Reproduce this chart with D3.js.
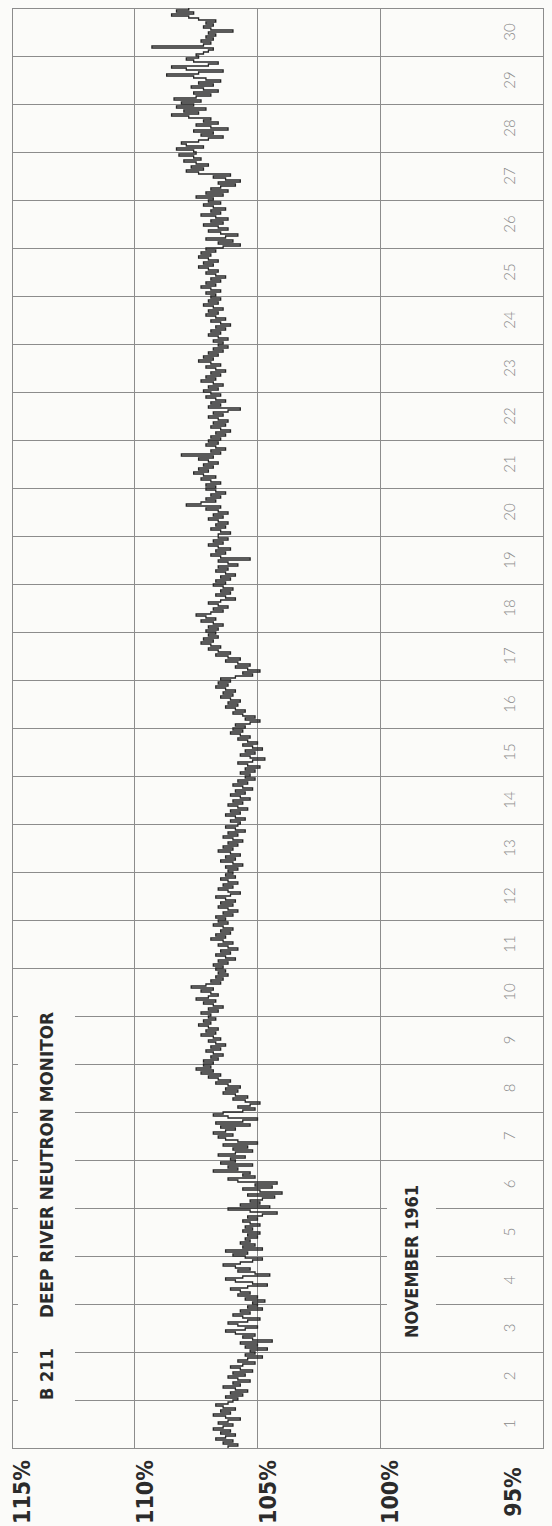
<!DOCTYPE html>
<html>
<head>
<meta charset="utf-8">
<script src="https://cdn.jsdelivr.net/npm/d3@7"></script>
<style>
  body { margin: 0; background: #fbfbf9; }
  svg { display: block; }
</style>
</head>
<body>
<svg id="chart" width="552" height="1526"></svg>
<script>
// day numbers along the (vertical) time axis, percent ticks along the value axis
var days = d3.range(1, 31);
var pctTicks = [115, 110, 105, 100, 95];
var title = "B 211";
var subtitle = "DEEP RIVER NEUTRON MONITOR";
var monthLabel = "NOVEMBER 1961";

// hourly counting rate in percent, one row per day, hour 0 first
var hourlyPct = [
  106.2,105.8,106.4,106.0,106.7,106.3,105.9,106.5,106.1,106.8,106.4,106.0,106.6,106.2,105.7,106.3,106.8,106.1,106.5,105.9,106.4,106.7,106.2,106.0,
  105.8,106.3,105.6,106.1,105.4,105.9,106.4,105.7,106.0,105.3,105.8,106.2,105.5,106.0,105.2,105.7,106.1,105.6,105.1,105.8,105.4,104.8,105.5,105.1,
  105.3,104.6,105.5,105.0,105.7,104.4,105.2,105.6,105.1,105.9,106.3,105.5,105.0,105.8,106.2,105.4,104.9,105.6,106.0,105.3,105.7,104.8,105.4,105.0,
  105.2,104.7,105.5,105.0,105.8,105.3,105.7,106.1,105.4,104.6,105.2,105.9,106.3,105.6,104.5,105.1,105.8,105.3,105.9,106.4,105.7,105.2,104.8,105.5,
  106.0,105.4,106.3,104.8,105.6,105.1,105.7,105.3,105.5,105.0,105.4,104.9,105.6,105.2,105.5,104.9,105.3,105.6,105.0,105.4,104.8,104.2,105.3,106.2,
  104.5,105.7,104.9,105.3,104.8,104.3,105.4,104.0,104.9,105.6,104.4,105.1,104.2,105.8,106.2,105.1,105.6,105.3,106.8,105.8,106.2,105.2,106.5,105.9,
  106.1,105.5,106.6,105.9,105.2,106.0,105.4,106.4,105.0,105.8,106.3,106.6,106.0,106.8,106.3,105.9,106.5,105.3,106.7,105.6,105.0,106.2,106.8,106.4,
  105.6,105.1,105.8,105.3,104.9,105.5,106.0,105.4,105.9,106.4,105.8,106.3,105.7,106.2,106.7,106.1,106.6,107.0,106.5,107.3,106.8,107.5,106.9,107.2,
  106.8,107.2,106.6,106.9,106.4,106.8,107.1,106.5,106.9,106.3,106.7,107.0,106.5,106.8,107.3,106.7,107.1,106.6,107.0,107.4,106.9,107.2,106.7,107.0,
  106.9,107.3,106.6,107.0,106.4,106.8,107.2,106.7,107.5,107.0,106.6,106.9,107.3,106.8,107.7,107.1,106.5,106.9,106.4,106.7,106.2,106.6,106.3,106.7,
  106.4,106.8,106.2,106.6,105.9,106.3,106.7,106.1,106.5,105.8,106.2,106.6,106.0,106.4,106.9,106.3,106.7,106.1,106.5,106.0,106.4,106.8,106.2,106.6,
  106.3,106.7,106.0,106.4,105.8,106.2,106.6,106.0,106.5,105.9,106.3,106.7,106.1,105.7,106.2,106.6,106.0,106.4,105.8,106.2,106.5,105.9,106.3,106.0,
  106.2,105.8,106.3,105.6,106.0,106.5,105.9,106.3,105.7,106.1,106.6,106.0,106.4,105.8,106.2,105.6,106.0,106.4,105.8,106.2,105.5,105.9,106.3,105.8,
  105.7,106.1,105.5,105.9,106.3,105.7,106.1,105.4,105.8,106.2,105.6,106.0,105.3,105.7,106.1,105.5,105.9,105.2,105.6,106.0,105.4,105.8,105.1,105.5,
  105.3,105.7,105.1,105.5,104.9,105.4,105.8,105.2,104.7,105.3,105.7,105.1,105.5,104.8,105.2,105.6,105.0,105.4,105.8,105.3,105.7,106.1,105.6,106.0,
  105.5,105.9,105.3,104.9,105.5,105.1,105.6,106.0,105.5,105.9,106.3,105.8,106.2,105.7,106.1,106.5,106.0,106.4,105.9,106.3,106.7,106.2,106.6,106.1,
  106.5,105.9,105.2,105.6,104.9,105.4,105.9,105.3,105.8,106.3,105.7,106.2,106.7,106.1,106.6,107.0,106.5,106.9,107.3,106.8,107.2,106.6,107.0,106.7,
  107.1,106.6,107.0,106.4,106.8,107.3,106.7,107.1,107.5,106.9,106.4,106.8,106.2,106.6,107.0,106.5,105.9,106.3,106.7,106.1,106.5,106.0,106.4,106.8,
  106.3,106.7,106.1,106.5,105.9,106.3,106.7,106.2,106.6,105.8,106.2,106.6,105.3,106.5,106.9,106.3,106.7,106.1,106.6,107.0,106.4,106.8,106.2,106.6,
  106.6,106.1,106.5,106.9,106.3,106.7,106.2,106.6,107.0,106.4,106.8,106.2,106.6,107.1,106.5,107.9,107.3,106.7,107.1,106.5,106.9,106.3,106.7,107.1,
  106.7,107.1,106.5,106.9,107.3,106.7,107.2,107.6,107.0,107.4,106.8,107.2,106.6,107.0,107.4,106.8,108.1,106.5,106.9,106.3,106.7,107.1,106.6,107.0,
  106.5,106.9,106.3,106.7,106.1,106.5,106.9,106.3,106.8,106.2,106.6,107.0,106.4,106.8,106.2,105.7,107.0,106.5,106.9,106.3,106.7,107.1,106.5,106.9,
  107.2,106.6,107.0,106.4,106.8,107.3,106.7,107.1,106.5,106.9,106.3,106.7,107.1,106.5,106.9,107.4,106.8,107.2,106.6,107.0,106.4,106.8,106.2,106.6,
  106.4,106.8,106.2,106.6,107.0,106.5,106.9,106.3,106.7,106.1,106.5,106.9,106.3,106.7,107.1,106.6,107.0,106.4,106.8,107.2,106.6,107.0,106.5,106.9,
  106.7,107.1,106.5,106.9,107.3,106.7,107.1,106.5,106.9,106.3,106.7,107.1,106.6,107.0,107.4,106.8,107.2,106.6,107.0,107.4,106.9,107.3,106.7,107.1,
  106.4,105.7,106.6,106.0,107.1,106.3,105.8,106.5,107.0,106.2,106.6,107.2,106.4,106.9,106.2,106.7,107.3,106.5,106.9,106.3,106.8,107.2,106.5,107.0,
  106.8,107.5,106.4,107.1,106.2,106.9,106.5,105.9,106.6,105.7,106.3,106.8,106.1,107.4,107.9,107.2,107.7,107.0,107.5,108.0,107.3,107.6,108.2,107.5,
  107.6,108.3,107.2,107.9,108.1,107.4,107.0,106.4,107.3,106.8,107.6,106.2,106.9,107.5,106.6,107.2,106.9,107.8,108.5,107.4,108.0,107.1,108.3,107.6,
  108.1,107.3,108.4,107.5,106.9,107.6,106.6,107.2,107.7,106.8,107.4,106.5,107.1,107.6,108.7,107.4,106.4,107.9,108.5,107.0,106.6,107.6,107.9,107.4,
  107.5,107.2,107.0,106.8,109.3,107.2,106.9,107.3,106.8,107.1,106.7,107.0,106.0,106.9,107.2,106.8,107.1,106.7,107.4,107.8,108.5,107.6,108.3,107.8
];

var svg = d3.select("#chart");
var bg = "#fbfbf9";

// value runs left (115%) to right (95%), time runs bottom (day 1) to top (day 30)
var x = d3.scaleLinear().domain([115, 95]).range([12, 503]);
var y = d3.scaleLinear().domain([0, 30]).range([1448, 8]);
var right = 543;

var grid = svg.append("g")
  .attr("stroke", "#8c8c8c")
  .attr("stroke-width", 1)
  .attr("shape-rendering", "crispEdges");

grid.selectAll(".vline")
  .data(pctTicks.filter(function (d) { return d < 115 && d > 95; }))
  .enter().append("line")
  .attr("x1", function (d) { return x(d); })
  .attr("x2", function (d) { return x(d); })
  .attr("y1", y(30))
  .attr("y2", y(0));

grid.selectAll(".hline")
  .data(d3.range(1, 30))
  .enter().append("line")
  .attr("x1", x(115))
  .attr("x2", right)
  .attr("y1", function (d) { return y(d); })
  .attr("y2", function (d) { return y(d); });

grid.append("rect")
  .attr("x", x(115))
  .attr("y", y(30))
  .attr("width", right - x(115))
  .attr("height", y(0) - y(30))
  .attr("fill", "none");

// rotated text helper with a paper-coloured patch behind it
function label(px, py, txt, size, weight, fill, anchor, family, pad) {
  var g = svg.append("g")
    .attr("transform", "translate(" + px + "," + py + ") rotate(-90)");
  var t = g.append("text")
    .attr("text-anchor", anchor)
    .attr("font-family", family)
    .attr("font-size", size)
    .attr("font-weight", weight)
    .attr("fill", fill)
    .text(txt);
  if (pad) {
    var b = t.node().getBBox();
    g.insert("rect", "text")
      .attr("x", b.x - pad[0])
      .attr("y", b.y - pad[1])
      .attr("width", b.width + 2 * pad[0])
      .attr("height", b.height + 2 * pad[1])
      .attr("fill", bg);
  }
  return t;
}

var narrow = "'Liberation Sans Narrow', 'DejaVu Sans Condensed', 'Arial Narrow', sans-serif";

// percent labels under the frame
pctTicks.forEach(function (p) {
  label(x(p) + 18, 1492, p + "%", 23, "bold", "#2b2b2b", "middle", narrow);
});

// day numbers in the right hand column
days.forEach(function (d) {
  label(x(95) + 12, y(d - 0.5), String(d), 15, 300, "#8a8a8a", "middle", "Lato, 'DejaVu Sans', sans-serif");
});

// titles
label(53, 1400, title, 18, "bold", "#2b2b2b", "start", narrow, [8, 18]);
label(53, 1318, subtitle, 18, "bold", "#2b2b2b", "start", narrow, [8, 18])
  .attr("textLength", 306).attr("lengthAdjust", "spacingAndGlyphs");
label(418, 1338, monthLabel, 18, "bold", "#2b2b2b", "start", narrow, [8, 14]);

// step trace: each hour holds its value, horizontal jumps between hours
var pts = [];
hourlyPct.forEach(function (v, i) {
  pts.push([v, i / 24]);
  pts.push([v, (i + 1) / 24]);
});

var line = d3.line()
  .x(function (d) { return x(d[0]); })
  .y(function (d) { return y(d[1]); });

svg.append("path")
  .datum(pts)
  .attr("d", line)
  .attr("fill", "none")
  .attr("stroke", "#262626")
  .attr("stroke-width", 1.3)
  .attr("stroke-linejoin", "miter");
</script>
</body>
</html>
